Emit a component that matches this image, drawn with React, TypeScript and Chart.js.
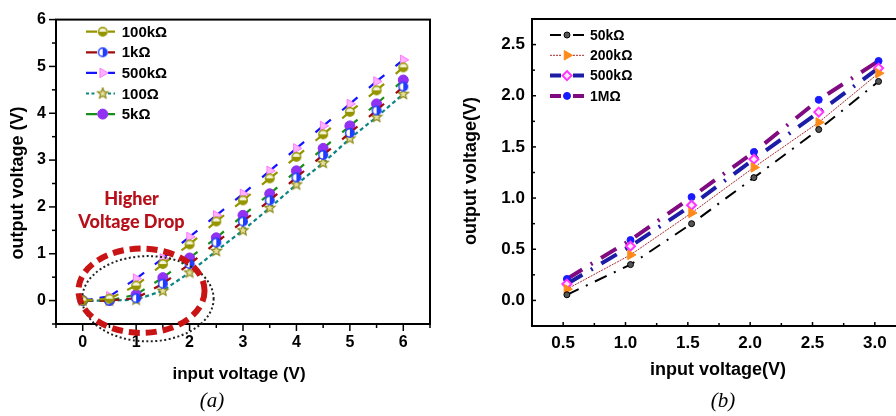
import React, { useEffect, useRef } from 'react';
import { Chart, registerables } from 'chart.js';
import { drawPoint } from 'chart.js/helpers';

Chart.register(...registerables);

const FONT = "'Liberation Sans', Arial, Helvetica, sans-serif";

// ---------- Panel (a) ----------
const A_INPUT_V = [0, 0.5, 1, 1.5, 2, 2.5, 3, 3.5, 4, 4.5, 5, 5.5, 6];
const A_OUT_100K = [0, 0.04, 0.32, 0.78, 1.2, 1.69, 2.14, 2.61, 3.07, 3.55, 4.03, 4.49, 4.98];
const A_OUT_1K = [0, 0, 0.05, 0.36, 0.78, 1.24, 1.69, 2.14, 2.63, 3.11, 3.58, 4.06, 4.57];
const A_OUT_500K = [0, 0.09, 0.47, 0.9, 1.36, 1.82, 2.28, 2.77, 3.25, 3.73, 4.2, 4.68, 5.14];
const A_OUT_100 = [0, 0, 0.02, 0.21, 0.6, 1.06, 1.5, 1.98, 2.48, 2.94, 3.46, 3.92, 4.41];
const A_OUT_5K = [0, 0, 0.13, 0.49, 0.91, 1.34, 1.82, 2.28, 2.77, 3.25, 3.73, 4.2, 4.71];
const A_SERIES_LABELS = ['100kΩ', '1kΩ', '500kΩ', '100Ω', '5kΩ'];
const A_X_TICKS = [0, 1, 2, 3, 4, 5, 6];
const A_Y_TICKS = [0, 1, 2, 3, 4, 5, 6];
const A_X_TITLE = 'input voltage (V)';
const A_Y_TITLE = 'output voltage (V)';
const A_NOTE = ['Higher', 'Voltage Drop'];
const A_CAPTION = '(a)';
// highlighted region (data units): centre x, centre y, radius x, radius y
const A_REGION_RED = [1.1, 0.21, 1.18, 0.9];
const A_REGION_DOTS = [1.22, 0.04, 1.23, 0.91];

// ---------- Panel (b) ----------
const B_INPUT_V = [0.53, 1.04, 1.53, 2.03, 2.55, 3.03];
const B_OUT_50K = [0.055, 0.35, 0.75, 1.2, 1.67, 2.14];
const B_OUT_200K = [0.11, 0.445, 0.855, 1.3, 1.74, 2.22];
const B_OUT_500K = [0.16, 0.53, 0.93, 1.38, 1.84, 2.27];
const B_OUT_1M = [0.21, 0.59, 1.01, 1.45, 1.96, 2.34];
const B_SERIES_LABELS = ['50kΩ', '200kΩ', '500kΩ', '1MΩ'];
const B_X_TICKS = [0.5, 1.0, 1.5, 2.0, 2.5, 3.0];
const B_Y_TICKS = [0, 0.5, 1.0, 1.5, 2.0, 2.5];
const B_X_TITLE = 'input voltage(V)';
const B_Y_TITLE = 'output voltage(V)';
const B_CAPTION = '(b)';

// ---------- helpers ----------
function markerCanvas(size: number, paint: (g: CanvasRenderingContext2D, c: number) => void) {
  const cv = document.createElement('canvas');
  cv.width = size;
  cv.height = size;
  const g = cv.getContext('2d')!;
  paint(g, size / 2);
  return cv;
}

function halfCircle(color: string, light: string, start: number, r: number) {
  return markerCanvas(12, (g, c) => {
    g.beginPath();
    g.arc(c, c, r, 0, Math.PI * 2);
    g.fillStyle = light;
    g.fill();
    g.beginPath();
    g.moveTo(c, c);
    g.arc(c, c, r, start, start + Math.PI);
    g.closePath();
    g.fillStyle = color;
    g.fill();
    g.beginPath();
    g.arc(c, c, r, 0, Math.PI * 2);
    g.lineWidth = 1.4;
    g.strokeStyle = color;
    g.stroke();
  });
}

function starMarker(stroke: string, fill: string) {
  return markerCanvas(14, (g, c) => {
    g.beginPath();
    for (let i = 0; i < 10; i++) {
      const r = i % 2 === 0 ? 5.5 : 2.4;
      const a = -Math.PI / 2 + (i * Math.PI) / 5;
      const x = c + r * Math.cos(a);
      const y = c + r * Math.sin(a);
      if (i === 0) g.moveTo(x, y);
      else g.lineTo(x, y);
    }
    g.closePath();
    g.fillStyle = fill;
    g.fill();
    g.lineWidth = 1.2;
    g.strokeStyle = stroke;
    g.stroke();
  });
}

// dash centred on every data point (Origin-like look)
function centeredDash(half: number) {
  return {
    borderDash: (ctx: any) => {
      const L = Math.hypot(ctx.p1.x - ctx.p0.x, ctx.p1.y - ctx.p0.y);
      if (L <= 2 * half) return [L + 2, 1000];
      return [half, L - 2 * half, half + 0.5, 1000];
    },
    borderDashOffset: (ctx: any) => ctx.p0DataIndex * 0.0001,
  };
}

function pts(xs: number[], ys: number[]) {
  return xs.map((x, i) => ({ x, y: ys[i] }));
}

function makeDecor(cfg: any) {
  return {
    id: 'decor',
    afterDraw(chart: any) {
      const ctx: CanvasRenderingContext2D = chart.ctx;
      const area = chart.chartArea;
      ctx.save();
      // axis ticks
      for (const t of cfg.ticks) {
        const sc = chart.scales[t.axis];
        const values: [number, number][] = [];
        t.major.forEach((v: number) => values.push([v, t.majorLen]));
        for (let v = t.major[0] - t.step / 2; v <= t.major[t.major.length - 1] + t.step / 2 + 1e-9; v += t.step) {
          if (v >= sc.min - 1e-9 && v <= sc.max + 1e-9) values.push([v, t.minorLen]);
        }
        ctx.strokeStyle = '#000';
        ctx.lineWidth = 1.5;
        ctx.setLineDash([]);
        for (const [v, len] of values) {
          const p = sc.getPixelForValue(v);
          ctx.beginPath();
          if (t.axis === 'x') {
            const b = area.bottom;
            ctx.moveTo(p, b);
            ctx.lineTo(p, t.dir === 'out' ? b + len : b - len);
          } else {
            const b = area.left;
            ctx.moveTo(b, p);
            ctx.lineTo(t.dir === 'out' ? b - len : b + len, p);
          }
          ctx.stroke();
        }
      }
      // frame
      ctx.lineWidth = 2;
      ctx.strokeStyle = '#000';
      ctx.strokeRect(area.left, area.top, area.right - area.left, area.bottom - area.top);
      // highlighted ellipses
      const xs = chart.scales.x;
      const ys = chart.scales.y;
      for (const e of cfg.ellipses || []) {
        const [cx, cy, rx, ry] = e.region;
        const px = xs.getPixelForValue(cx);
        const py = ys.getPixelForValue(cy);
        const prx = Math.abs(xs.getPixelForValue(cx + rx) - px);
        const pry = Math.abs(ys.getPixelForValue(cy + ry) - py);
        ctx.beginPath();
        ctx.ellipse(px, py, prx, pry, 0, 0, Math.PI * 2);
        ctx.strokeStyle = e.color;
        ctx.lineWidth = e.width;
        ctx.setLineDash(e.dash);
        ctx.stroke();
      }
      ctx.setLineDash([]);
      // notes / titles
      for (const t of cfg.texts || []) {
        ctx.save();
        ctx.translate(t.x, t.y);
        if (t.rotate) ctx.rotate(t.rotate);
        ctx.font = t.font;
        ctx.fillStyle = t.color || '#000';
        ctx.textAlign = 'center';
        ctx.textBaseline = t.baseline || 'middle';
        ctx.fillText(t.text, 0, 0);
        ctx.restore();
      }
      // legend
      const lg = cfg.legend;
      if (lg) {
        chart.data.datasets.forEach((ds: any, i: number) => {
          const y = lg.y0 + i * lg.dy;
          ctx.save();
          ctx.strokeStyle = ds.borderColor;
          ctx.lineWidth = ds.borderWidth;
          ctx.setLineDash(ds.legendDash || []);
          ctx.beginPath();
          ctx.moveTo(lg.seg1[0], y);
          ctx.lineTo(lg.seg1[1], y);
          ctx.moveTo(lg.seg2[0], y);
          ctx.lineTo(lg.seg2[1], y);
          ctx.stroke();
          ctx.setLineDash([]);
          ctx.fillStyle = ds.pointBackgroundColor || '#000';
          ctx.strokeStyle = ds.pointBorderColor || '#000';
          ctx.lineWidth = ds.pointBorderWidth || 1;
          drawPoint(ctx, {
            pointStyle: ds.pointStyle,
            radius: ds.pointRadius,
            rotation: ds.pointRotation || 0,
            borderWidth: ds.pointBorderWidth || 0,
          } as any, lg.mx, y);
          ctx.fillStyle = '#000';
          ctx.font = lg.font;
          ctx.textAlign = 'left';
          ctx.textBaseline = 'middle';
          ctx.fillText(ds.label, lg.tx, y + 1);
          ctx.restore();
        });
      }
      ctx.restore();
    },
  };
}

function fixedTicks(values: number[]) {
  return (s: any) => {
    s.ticks = values.map((v) => ({ value: v }));
  };
}

function buildA(): any {
  const olive = '#959500';
  const darkRed = '#a00c0c';
  const blue = '#1414ff';
  const teal = '#0e8585';
  const green = '#179017';
  const purple = '#9131f2';
  const datasets = [
    {
      label: A_SERIES_LABELS[0],
      data: pts(A_INPUT_V, A_OUT_100K),
      borderColor: olive,
      borderWidth: 2.2,
      segment: centeredDash(10),
      pointStyle: halfCircle(olive, '#f3f3d6', 0, 4.3),
      pointRadius: 5,
      legendDash: [],
    },
    {
      label: A_SERIES_LABELS[1],
      data: pts(A_INPUT_V, A_OUT_1K),
      borderColor: darkRed,
      borderWidth: 2.2,
      segment: centeredDash(10),
      pointStyle: halfCircle('#1f3cff', '#ffffff', -Math.PI / 2, 4.3),
      pointRadius: 5,
      legendDash: [],
    },
    {
      label: A_SERIES_LABELS[2],
      data: pts(A_INPUT_V, A_OUT_500K),
      borderColor: blue,
      borderWidth: 2.2,
      segment: centeredDash(10),
      pointStyle: 'triangle',
      pointRotation: 90,
      pointRadius: 5.5,
      pointBackgroundColor: '#ffb2ff',
      pointBorderColor: '#ff78ff',
      pointBorderWidth: 1,
      legendDash: [],
    },
    {
      label: A_SERIES_LABELS[3],
      data: pts(A_INPUT_V, A_OUT_100),
      borderColor: teal,
      borderWidth: 2.2,
      borderDash: [4, 3],
      pointStyle: starMarker('#8c8a1a', '#e6df9a'),
      pointRadius: 5,
      legendDash: [3, 2.5],
    },
    {
      label: A_SERIES_LABELS[4],
      data: pts(A_INPUT_V, A_OUT_5K),
      borderColor: green,
      borderWidth: 2.2,
      segment: centeredDash(10),
      pointStyle: 'circle',
      pointRadius: 5,
      pointBackgroundColor: purple,
      pointBorderColor: purple,
      pointBorderWidth: 1,
      legendDash: [],
    },
  ];
  const tickFont = { family: FONT, size: 16, weight: 'bold' };
  return {
    type: 'line',
    data: { datasets },
    options: {
      responsive: false,
      animation: false,
      layout: { padding: { top: 17, right: 10, left: 0, bottom: 0 } },
      plugins: { legend: { display: false }, tooltip: { enabled: false } },
      scales: {
        x: {
          type: 'linear',
          min: -0.5,
          max: 6.5,
          afterBuildTicks: fixedTicks(A_X_TICKS),
          afterFit: (s: any) => {
            s.height = 92;
          },
          grid: { display: false, drawTicks: false },
          border: { display: false },
          ticks: { padding: 9, color: '#000', font: tickFont, autoSkip: false, maxRotation: 0 },
        },
        y: {
          type: 'linear',
          min: -0.5,
          max: 6,
          afterBuildTicks: fixedTicks(A_Y_TICKS),
          afterFit: (s: any) => {
            s.width = 56;
          },
          grid: { display: false, drawTicks: false },
          border: { display: false },
          ticks: { padding: 10, color: '#000', font: tickFont, autoSkip: false },
        },
      },
    },
    plugins: [
      makeDecor({
        ticks: [
          { axis: 'x', major: A_X_TICKS, step: 1, dir: 'out', majorLen: 7, minorLen: 4 },
          { axis: 'y', major: A_Y_TICKS, step: 1, dir: 'out', majorLen: 7, minorLen: 4 },
        ],
        ellipses: [
          { region: A_REGION_DOTS, color: '#222', width: 2, dash: [2, 2.5] },
          { region: A_REGION_RED, color: '#c81414', width: 6, dash: [11, 6] },
        ],
        texts: [
          { text: A_NOTE[0], x: 131.5, y: 205, baseline: 'alphabetic', font: `900 18px Lato, ${FONT}`, color: '#b8101a' },
          { text: A_NOTE[1], x: 131.5, y: 228, baseline: 'alphabetic', font: `900 18px Lato, ${FONT}`, color: '#b8101a' },
          { text: A_Y_TITLE, x: 18.5, y: 183, rotate: -Math.PI / 2, font: `bold 18px ${FONT}` },
          { text: A_X_TITLE, x: 239, y: 374, font: `bold 17px ${FONT}` },
          { text: A_CAPTION, x: 212, y: 401, font: `italic 21px 'Liberation Serif', 'Times New Roman', serif` },
        ],
        legend: { y0: 31.7, dy: 20.6, seg1: [86, 97], mx: 102.7, seg2: [108, 115], tx: 121.7, font: `bold 15px ${FONT}` },
      }),
    ],
  };
}

function buildB(): any {
  const datasets = [
    {
      label: B_SERIES_LABELS[0],
      data: pts(B_INPUT_V, B_OUT_50K),
      borderColor: '#000000',
      borderWidth: 2,
      borderDash: [13, 8, 2, 8],
      pointStyle: 'circle',
      pointRadius: 3,
      pointBackgroundColor: '#555',
      pointBorderColor: '#000',
      pointBorderWidth: 1,
      legendDash: [],
    },
    {
      label: B_SERIES_LABELS[1],
      data: pts(B_INPUT_V, B_OUT_200K),
      borderColor: '#a82a2a',
      borderWidth: 1,
      borderDash: [2, 1],
      pointStyle: 'triangle',
      pointRotation: 90,
      pointRadius: 5.5,
      pointBackgroundColor: '#ff8a1a',
      pointBorderColor: '#ff8a1a',
      pointBorderWidth: 1,
      legendDash: [2, 1],
    },
    {
      label: B_SERIES_LABELS[2],
      data: pts(B_INPUT_V, B_OUT_500K),
      borderColor: '#1c1ca6',
      borderWidth: 4,
      borderDash: [18, 10, 2, 10],
      pointStyle: 'rectRot',
      pointRadius: 4.5,
      pointBackgroundColor: '#ffe6ff',
      pointBorderColor: '#ff33ff',
      pointBorderWidth: 2,
      legendDash: [],
    },
    {
      label: B_SERIES_LABELS[3],
      data: pts(B_INPUT_V, B_OUT_1M),
      borderColor: '#800a80',
      borderWidth: 4,
      borderDash: [18, 10, 2, 10],
      pointStyle: 'circle',
      pointRadius: 3.5,
      pointBackgroundColor: '#1a1aff',
      pointBorderColor: '#1a1aff',
      pointBorderWidth: 1,
      legendDash: [],
    },
  ];
  const tickFont = { family: FONT, size: 17, weight: 'bold' };
  return {
    type: 'line',
    data: { datasets },
    options: {
      responsive: false,
      animation: false,
      layout: { padding: { top: 19, right: 10, left: 0, bottom: 0 } },
      plugins: { legend: { display: false }, tooltip: { enabled: false } },
      scales: {
        x: {
          type: 'linear',
          min: 0.25,
          max: 3.25,
          afterBuildTicks: fixedTicks(B_X_TICKS),
          afterFit: (s: any) => {
            s.height = 90;
          },
          grid: { display: false, drawTicks: false },
          border: { display: false },
          ticks: {
            padding: 7,
            color: '#000',
            font: tickFont,
            autoSkip: false,
            maxRotation: 0,
            callback: (v: any) => Number(v).toFixed(1),
          },
        },
        y: {
          type: 'linear',
          min: -0.25,
          max: 2.75,
          afterBuildTicks: fixedTicks(B_Y_TICKS),
          afterFit: (s: any) => {
            s.width = 92;
          },
          grid: { display: false, drawTicks: false },
          border: { display: false },
          ticks: {
            padding: 7,
            color: '#000',
            font: tickFont,
            autoSkip: false,
            callback: (v: any) => Number(v).toFixed(1),
          },
        },
      },
    },
    plugins: [
      makeDecor({
        ticks: [
          { axis: 'x', major: B_X_TICKS, step: 0.5, dir: 'in', majorLen: 4, minorLen: 3 },
          { axis: 'y', major: B_Y_TICKS, step: 0.5, dir: 'in', majorLen: 4, minorLen: 3 },
        ],
        texts: [
          { text: B_Y_TITLE, x: 31, y: 171, rotate: -Math.PI / 2, font: `bold 18px ${FONT}` },
          { text: B_X_TITLE, x: 278, y: 370, font: `bold 18px ${FONT}` },
          { text: B_CAPTION, x: 283, y: 401, font: `italic 21px 'Liberation Serif', 'Times New Roman', serif` },
        ],
        legend: { y0: 35, dy: 20.3, seg1: [110, 121], mx: 127, seg2: [133, 144], tx: 150, font: `bold 14px ${FONT}` },
      }),
    ],
  };
}

function ChartCanvas({ build, left, width }: { build: () => any; left: number; width: number }) {
  const ref = useRef<HTMLCanvasElement>(null);
  useEffect(() => {
    if (!ref.current) return;
    const chart = new Chart(ref.current, build());
    return () => chart.destroy();
  }, [build]);
  return (
    <canvas
      ref={ref}
      width={width}
      height={416}
      style={{ position: 'absolute', left, top: 0, width, height: 416 }}
    />
  );
}

export default function App() {
  return (
    <div
      style={{
        position: 'fixed',
        left: 0,
        top: 0,
        width: 896,
        height: 416,
        overflow: 'hidden',
        background: '#ffffff',
      }}
    >
      <ChartCanvas build={buildA} left={0} width={440} />
      <ChartCanvas build={buildB} left={440} width={476} />
    </div>
  );
}
